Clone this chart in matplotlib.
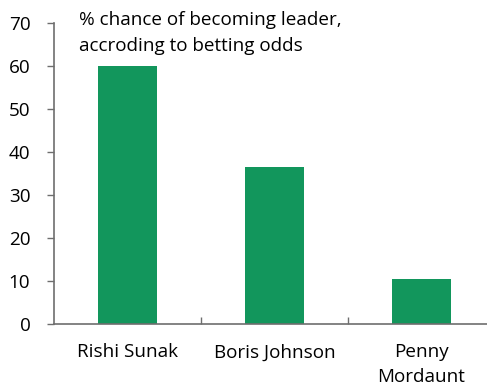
import matplotlib
matplotlib.use("Agg")
import matplotlib.pyplot as plt
from matplotlib.ticker import FixedLocator

# ── Data ──────────────────────────────────────────────────────────────────────
candidates = ["Rishi Sunak", "Boris Johnson", "Penny\nMordaunt"]
chance_pct = [60, 36.5, 10.5]
y_ticks = [0, 10, 20, 30, 40, 50, 60, 70]

GREEN = "#12965c"
GREY = "#6e6e6e"
FS = 13.6

plt.rcParams["font.family"] = ["Open Sans", "DejaVu Sans"]

fig = plt.figure(figsize=(4.87, 3.88), dpi=100)
ax = fig.add_axes([0.111, 0.165, 0.905, 0.776])

x = list(range(len(candidates)))
ax.bar(x, chance_pct, width=0.40, color=GREEN, edgecolor="none")

ax.set_xlim(-0.5, 2.5)
ax.set_ylim(0, 70)
ax.set_yticks(y_ticks)
ax.tick_params(axis="y", direction="out", length=5, width=1, color=GREY,
               labelsize=FS, pad=12)

ax.set_xticks(x)
ax.set_xticklabels(candidates, fontsize=FS, linespacing=1.45)
ax.tick_params(axis="x", length=0, pad=14)
ax.xaxis.set_minor_locator(FixedLocator([0.5, 1.5]))
ax.tick_params(axis="x", which="minor", direction="in", length=5, width=1, color=GREY)

for side in ["top", "right"]:
    ax.spines[side].set_visible(False)
for side in ["left", "bottom"]:
    ax.spines[side].set_color(GREY)
    ax.spines[side].set_linewidth(1.2)

fig.text(0.162, 0.972, "% chance of becoming leader,\naccroding to betting odds",
         fontsize=FS, va="top", ha="left", linespacing=1.55)

fig.savefig("out.png", dpi=100)
